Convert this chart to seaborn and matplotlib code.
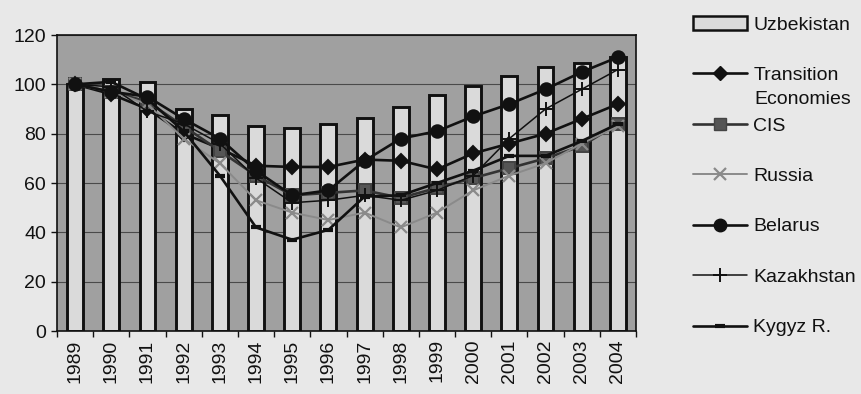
import matplotlib
matplotlib.use("Agg")
import matplotlib.pyplot as plt
from matplotlib.lines import Line2D
from matplotlib.patches import Patch
from matplotlib.ticker import FixedLocator
import seaborn as sns
import numpy as np

years = ["1989", "1990", "1991", "1992", "1993", "1994", "1995", "1996",
         "1997", "1998", "1999", "2000", "2001", "2002", "2003", "2004"]
uzbekistan = [100, 102, 101, 90, 87.5, 83, 82.5, 84, 86.5, 91, 95.5, 99.5, 103.5, 107, 108.5, 111]
transition = [100, 96, 90, 80, 74, 67, 66.5, 66.5, 69.5, 69, 65.5, 72, 76, 80, 86, 92]
cis = [100, 97, 93, 83, 73, 63, 55, 56, 57, 54, 58, 62, 66, 70, 75, 84]
russia = [100, 97, 92, 78, 68, 53, 48, 45, 48, 42, 48, 57, 63, 68, 76, 83]
belarus = [100, 97, 95, 86, 78, 65, 55, 57, 69, 78, 81, 87, 92, 98, 105, 111]
kazakhstan = [100, 99, 89, 84, 76, 62, 52, 53, 55, 53, 57, 63, 78, 90, 98, 106]
kyrgyz = [100, 101, 94, 81, 63, 42, 37, 41, 54.5, 55, 60, 65, 71, 71, 77, 84]

series_names = ["Transition", "CIS", "Russia", "Belarus", "Kazakhstan", "Kygyz R."]
series_vals = [transition, cis, russia, belarus, kazakhstan, kyrgyz]
styles = [
    dict(color="#111111", marker="D", markersize=7.5, linewidth=1.9, markerfacecolor="#111111", markeredgecolor="#111111"),
    dict(color="#333333", marker="s", markersize=8, linewidth=1.9, markerfacecolor="#555555", markeredgecolor="#444444"),
    dict(color="#8a8a8a", marker="x", markersize=9, linewidth=1.4, markeredgewidth=1.6, markeredgecolor="#8a8a8a"),
    dict(color="#111111", marker="o", markersize=9, linewidth=1.9, markerfacecolor="#111111", markeredgecolor="#111111"),
    dict(color="#111111", marker="+", markersize=10, linewidth=1.1, markeredgewidth=1.4, markeredgecolor="#111111"),
    dict(color="#111111", marker="_", markersize=7, linewidth=1.9, markeredgewidth=3, markeredgecolor="#111111"),
]

sns.set_theme(style="white")
plt.rcParams["font.family"] = ["Liberation Sans", "DejaVu Sans"]

fig = plt.figure(figsize=(8.61, 3.94), dpi=100)
fig.patch.set_facecolor("#e8e8e8")
ax = fig.add_axes([57 / 861, 1 - 331 / 394, (636 - 57) / 861, (331 - 35) / 394])
ax.set_facecolor("#a0a0a0")

sns.barplot(x=years, y=uzbekistan, color="#dadada", saturation=1, edgecolor="#111111",
            linewidth=2.1, width=0.44, ax=ax, zorder=2)

for vals, st in zip(series_vals, styles):
    sns.pointplot(x=years, y=vals, errorbar=None, ax=ax, linestyle="-", zorder=3, **st)

ax.set_xlim(-0.5, 15.5)
ax.set_ylim(0, 120)
ax.set_yticks(np.arange(0, 121, 20))
ax.yaxis.grid(True, color="#4a4a4a", linewidth=0.8)
ax.xaxis.grid(False)
ax.set_axisbelow(True)
ax.set_xlabel("")
ax.set_ylabel("")
for s in ax.spines.values():
    s.set_color("#111111")
    s.set_linewidth(1.2)

ax.tick_params(axis="y", labelsize=14, length=4, width=1, color="#111111", labelcolor="#111111", left=True, pad=4)
ax.tick_params(axis="x", which="major", labelsize=14, length=0, labelrotation=90, labelcolor="#111111", pad=6)
ax.xaxis.set_minor_locator(FixedLocator(np.arange(-0.5, 16, 1)))
ax.tick_params(axis="x", which="minor", length=4, width=1, color="#111111", bottom=True)

handles = [Patch(facecolor="#dadada", edgecolor="#111111", linewidth=1.8)]
for st in styles:
    handles.append(Line2D([0], [0], linestyle="-", **st))
labels = ["Uzbekistan"] + series_names
leg = fig.legend(handles, labels, loc="upper left", bbox_to_anchor=(693 / 861, 1 - 16 / 394),
                 frameon=False, fontsize=14, handlelength=2.8, handleheight=0.7,
                 handletextpad=0.3, labelspacing=1.69, borderpad=0, borderaxespad=0)
for t in leg.get_texts():
    t.set_color("#111111")
fig.text(754 / 861, 1 - 100 / 394, "Economies", fontsize=14, color="#111111", va="center", ha="left")

fig.savefig("out.png", dpi=100, facecolor=fig.get_facecolor())
